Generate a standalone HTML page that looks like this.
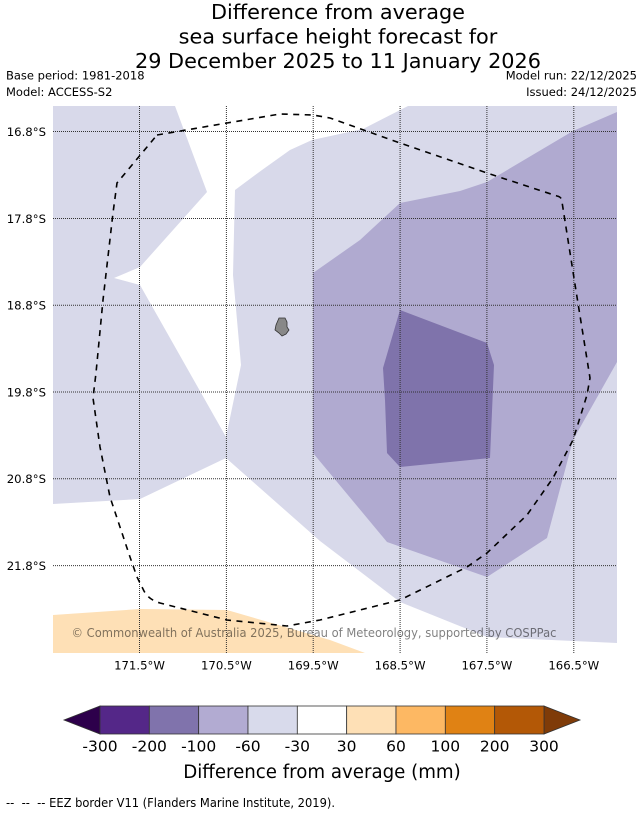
<!DOCTYPE html>
<html><head><meta charset="utf-8"><style>
html,body{margin:0;padding:0;background:#fff;}
svg{display:block;font-family:"DejaVu Sans","Liberation Sans",sans-serif;}
</style></head><body>
<svg width="644" height="816" viewBox="0 0 644 816" xmlns="http://www.w3.org/2000/svg">
<rect width="644" height="816" fill="#fff"/>
<!-- title -->
<g fill="#000" font-size="20.8" text-anchor="middle">
<text x="338" y="19">Difference from average</text>
<text x="338" y="43.5">sea surface height forecast for</text>
<text x="338" y="68">29 December 2025 to 11 January 2026</text>
</g>
<g fill="#000" font-size="11.5">
<text x="6" y="79.5">Base period: 1981-2018</text>
<text x="6" y="96">Model: ACCESS-S2</text>
<text x="637" y="79.5" text-anchor="end">Model run: 22/12/2025</text>
<text x="637" y="96" text-anchor="end">Issued: 24/12/2025</text>
</g>
<!-- map -->
<defs><clipPath id="mc"><rect x="53" y="106" width="564" height="547"/></clipPath></defs>
<g clip-path="url(#mc)">
<rect x="53" y="106" width="564" height="547" fill="#fff"/>
<polygon fill="#d8d9ea" points="53,106 175,106 207,192 140,267 114,278 140,285 226,437 240,370 241,365 233,275 235,190 262,170 290,150 312,140 363,129 408,106 617,106 617,643 487,637 400,602 320,541 226,458 140,499 53,504"/>
<polygon fill="#b0aad0" points="313,273 360,240 400,203 460,191 487,182 573,131 617,112 617,362 573,440 547,538 487,577 387,542 313,453"/>
<polygon fill="#7f73ab" points="400,310 487,343 494,365 490,458 400,467 387,453 385,400 383,368"/>
<polygon fill="#fee0b6" points="53,615 140,609 227,610 330,640 365,653 53,653"/>
<!-- island -->
<path d="M279,318 L285,318 L287,322 L287,327 L289,330 L286,334 L282,336 L279,333 L275,330 L276,325 Z" fill="#888" stroke="#333" stroke-width="0.8"/>
<!-- gridlines -->
<g stroke="#333" stroke-width="1" stroke-dasharray="1,1">
<line x1="139.5" y1="106" x2="139.5" y2="653"/>
<line x1="226.4" y1="106" x2="226.4" y2="653"/>
<line x1="313.2" y1="106" x2="313.2" y2="653"/>
<line x1="400.1" y1="106" x2="400.1" y2="653"/>
<line x1="486.9" y1="106" x2="486.9" y2="653"/>
<line x1="573.8" y1="106" x2="573.8" y2="653"/>
<line x1="53" y1="131.5" x2="617" y2="131.5"/>
<line x1="53" y1="218.5" x2="617" y2="218.5"/>
<line x1="53" y1="305.3" x2="617" y2="305.3"/>
<line x1="53" y1="392" x2="617" y2="392"/>
<line x1="53" y1="478.8" x2="617" y2="478.8"/>
<line x1="53" y1="565.6" x2="617" y2="565.6"/>
</g>
<!-- EEZ -->
<path d="M157,135 L227,123 L280,114 L313,115 L330,118 L400,143 L487,173 L557,196 Q562,197 562,202 L577,297 L590,378 L587,395 L573,440 L553,478 L527,515 L487,553 L467,567 L400,600 L320,620 L287,626 L227,620 L160,603 Q149,600 144,591 L137,577 L130,557 L110,497 L100,447 L93,398 L96,373 L103,300 L113,213 L117,183 Z" fill="none" stroke="#000" stroke-width="1.6" stroke-dasharray="6,5.5"/>
<text x="71.5" y="637" font-size="12" fill="#000" fill-opacity="0.5" textLength="485" lengthAdjust="spacingAndGlyphs">© Commonwealth of Australia 2025, Bureau of Meteorology, supported by COSPPac</text>
</g>
<!-- y labels -->
<g fill="#000" font-size="11.7" text-anchor="end">
<text x="46" y="135.8">16.8°S</text>
<text x="46" y="222.8">17.8°S</text>
<text x="46" y="309.6">18.8°S</text>
<text x="46" y="396.3">19.8°S</text>
<text x="46" y="483.1">20.8°S</text>
<text x="46" y="569.9">21.8°S</text>
</g>
<!-- x labels -->
<g fill="#000" font-size="11.7" text-anchor="middle">
<text x="139.5" y="669.5">171.5°W</text>
<text x="226.4" y="669.5">170.5°W</text>
<text x="313.2" y="669.5">169.5°W</text>
<text x="400.1" y="669.5">168.5°W</text>
<text x="486.9" y="669.5">167.5°W</text>
<text x="573.8" y="669.5">166.5°W</text>
</g>
<!-- colorbar -->
<g stroke="#333" stroke-width="0.8">
<polygon points="100,706 64,720 100,734" fill="#2d004b"/>
<polygon points="544,706 580,720 544,734" fill="#7f3b08"/>
<rect x="100" y="706" width="49.33" height="28" fill="#542788"/>
<rect x="149.33" y="706" width="49.33" height="28" fill="#8073ac"/>
<rect x="198.67" y="706" width="49.33" height="28" fill="#b2abd2"/>
<rect x="248" y="706" width="49.33" height="28" fill="#d8daeb"/>
<rect x="297.33" y="706" width="49.33" height="28" fill="#ffffff"/>
<rect x="346.67" y="706" width="49.33" height="28" fill="#fee0b6"/>
<rect x="396" y="706" width="49.33" height="28" fill="#fdb863"/>
<rect x="445.33" y="706" width="49.33" height="28" fill="#e08214"/>
<rect x="494.67" y="706" width="49.33" height="28" fill="#b35806"/>
</g>
<g fill="#000" font-size="15.5" text-anchor="middle">
<text x="100" y="751.7">-300</text>
<text x="149.33" y="751.7">-200</text>
<text x="198.67" y="751.7">-100</text>
<text x="248" y="751.7">-60</text>
<text x="297.33" y="751.7">-30</text>
<text x="346.67" y="751.7">30</text>
<text x="396" y="751.7">60</text>
<text x="445.33" y="751.7">100</text>
<text x="494.67" y="751.7">200</text>
<text x="544" y="751.7">300</text>
</g>
<text x="322" y="778" font-size="18.2" text-anchor="middle" fill="#000">Difference from average (mm)</text>
<text x="6" y="807" font-size="12" fill="#000" xml:space="preserve" style="white-space:pre" textLength="329" lengthAdjust="spacingAndGlyphs">--  --  -- EEZ border V11 (Flanders Marine Institute, 2019).</text>
</svg>
</body></html>
